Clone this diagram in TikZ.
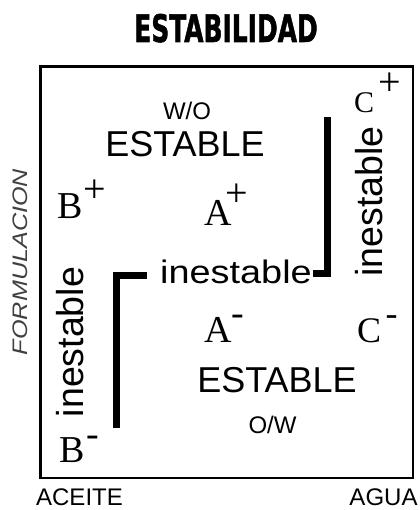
\documentclass[tikz,border=0pt]{standalone}
\usepackage{fontspec}
\setmainfont{Liberation Sans}
\newfontfamily\serifabc{Liberation Serif}
\newfontfamily\titlefont{DejaVu Sans Condensed Bold}[FakeBold=1.5]
\newcommand{\fs}[1]{\fontsize{#1bp}{#1bp}\selectfont}
\newcommand{\sgn}[1]{{\fs{40}#1}}
\begin{document}
\begin{tikzpicture}[x=1bp,y=-1bp,
  txt/.style={inner sep=0pt, outer sep=0pt, anchor=base},
  big/.style={txt, font=\fs{36}},
  small/.style={txt, font=\fs{24}},
  vert/.style={txt, rotate=90, font=\fs{37.5}},
  letter/.style={inner sep=0pt, outer sep=0pt, anchor=base west, font=\serifabc\fs{38}},
  barrier/.style={line width=7bp, line join=miter},
  frame/.style={line width=2.5bp}]
\useasboundingbox (0,0) rectangle (419,510);
% title
\node[txt, font=\titlefont\fs{38}] (title) at (226,42) {\scalebox{0.73}[1]{ESTABILIDAD}};
% frame
\draw[frame] (40.5,66.5) rectangle (413,478);
% axis labels
\node[txt, font=\fs{24}] (aceite) at (79.5,505.5) {ACEITE};
\node[txt, font=\fs{24}] (agua) at (383.5,505.5) {AGUA};
\node[txt, rotate=90, font=\itshape\fs{21}, text=black!75] (form) at (27,262) {\scalebox{1.2}[1]{FORMULACION}};
% region texts
\node[small] (wo) at (187,120) {W/O};
\node[big] (est1) at (185,157) {ESTABLE};
\node[big] (est2) at (277,392) {ESTABLE};
\node[small] (ow) at (272.5,433) {O/W};
\node[txt, font=\fs{32.5}] (ines) at (236,283) {\scalebox{1.165}[1]{inestable}};
\node[vert] (inesR) at (382,201.5) {inestable};
\node[vert] (inesL) at (83,342) {inestable};
% formulation labels
\node[letter] (bp) at (57.5,218) {B\kern1bp\raisebox{15bp}{\sgn{+}}};
\node[letter] (ap) at (204,225) {A\kern-6bp\raisebox{19bp}{\sgn{+}}};
\node[letter] (am) at (204,342) {A\kern0.5bp\raisebox{17bp}{-}};
\node[letter, font=\serifabc\fs{36}] (cm) at (357,342) {C\kern4.6bp\raisebox{16.7bp}{-}};
\node[letter, font=\serifabc\fs{30}] (cp) at (354,113) {C\kern4.8bp\raisebox{17bp}{\sgn{+}}};
\node[letter] (bm) at (59,462) {B\kern2.2bp\raisebox{16bp}{-}};
% barriers
\coordinate (r1) at (313,273.5);
\coordinate (r2) at (327.5,273.5);
\coordinate (r3) at (327.5,117);
\coordinate (l1) at (147,275);
\coordinate (l2) at (116.5,275);
\coordinate (l3) at (116.5,428);
\draw[barrier] (r1) -- (r2) -- (r3);
\draw[barrier] (l1) -- (l2) -- (l3);
\end{tikzpicture}
\end{document}
